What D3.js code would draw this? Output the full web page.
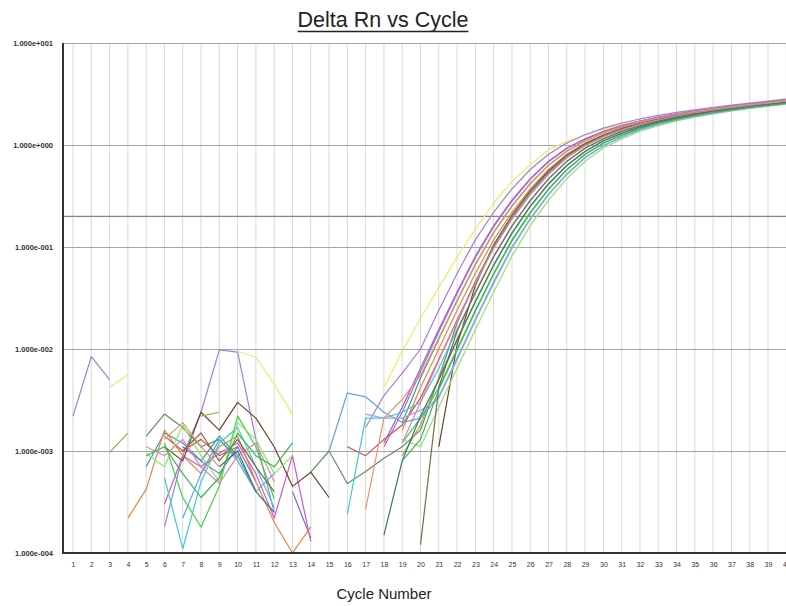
<!DOCTYPE html>
<html><head><meta charset="utf-8">
<script src="https://cdn.jsdelivr.net/npm/d3@7"></script>
<style>body{margin:0;background:#fff}svg{display:block}</style>
</head><body><svg id="c" width="786" height="606"></svg>
<script>
const _ = null;
const cycles = [1,2,3,4,5,6,7,8,9,10,11,12,13,14,15,16,17,18,19,20,21,22,23,24,25,26,27,28,29,30,31,32,33,34,35,36,37,38,39,40];
const yTickValues = [1e-4, 1e-3, 1e-2, 1e-1, 1, 10];
const yTickLabels = ["1.000e-004","1.000e-003","1.000e-002","1.000e-001","1.000e+000","1.000e+001"];
const thresholdValue = 0.2;
const titleText = "Delta Rn vs Cycle";
const xLabelText = "Cycle Number";

const seriesColors = ["#e6ee66","#a77bd9","#6f6fd8","#c95bc9","#2f9e9e","#e3863c","#6b4428","#d44a4a","#668c66","#3fc9d9",
                      "#3ed23e","#8ee46c","#a4aa3c","#e283b6","#64a2e2","#9aa6e6","#7c6a48","#3d7080","#e8926a","#36b84c"];

const s01 = [_,_,0.0042,0.0056,_,_,_,_,_,0.0095,0.0083,0.0045,0.0023,_,_,_,_,0.0042,0.0095,0.02,0.04,0.08,0.15,0.27,0.44,0.64,0.9,1.08,1.26,1.43,1.58,1.73,1.87,2.0,2.12,2.24,2.36,2.48,2.6,2.72];
const s02 = [0.0022,0.0084,0.005,_,_,0.00018,0.0009,0.0024,0.0098,0.0093,0.0013,0.00025,_,_,_,_,0.0017,0.0035,0.0058,0.010,0.024,0.055,0.1175,0.219,0.372,0.575,0.813,1.047,1.259,1.462,1.641,1.80,1.95,2.089,2.213,2.344,2.455,2.57,2.692,2.818];
const s03 = [_,_,_,_,_,_,0.0011,0.0008,0.0006,0.0011,0.0005,_,0.0004,0.00014,_,_,_,0.0012,0.00269,0.00646,0.0155,0.0363,0.0813,0.162,0.288,0.468,0.692,0.933,1.148,1.365,1.549,1.72,1.875,2.018,2.153,2.28,2.40,2.512,2.63,2.754];
const s04 = [_,_,_,_,_,0.0003,0.0009,0.0007,0.00095,0.0012,0.0006,0.00022,0.0009,0.00013,_,_,_,0.0011,0.0024,0.0060,0.0148,0.035,0.079,0.158,0.282,0.46,0.685,0.925,1.14,1.355,1.54,1.71,1.865,2.01,2.145,2.27,2.39,2.50,2.62,2.74];
const s05 = [_,_,_,_,0.0007,0.0015,0.0012,0.0008,0.0014,0.0009,0.0004,_,_,_,_,_,_,_,0.0019,0.0052,0.0125,0.0296,0.067,0.138,0.252,0.417,0.632,0.87,1.10,1.31,1.505,1.68,1.84,1.985,2.12,2.245,2.37,2.48,2.60,2.72];
const s06 = [_,_,_,0.00022,0.00042,0.0016,0.0009,0.0006,0.0011,0.0014,0.0005,0.0002,0.0001,0.00018,_,_,_,_,0.0016,0.0042,0.0100,0.024,0.055,0.1175,0.219,0.372,0.575,0.813,1.047,1.259,1.462,1.641,1.80,1.95,2.089,2.213,2.344,2.455,2.57,2.692];
const s07 = [_,_,_,_,_,0.0011,0.0008,0.0024,0.0016,0.003,0.0021,0.0011,0.00045,0.00062,0.00035,_,_,_,_,_,0.0011,0.011,0.042,0.105,0.205,0.355,0.558,0.795,1.03,1.245,1.445,1.625,1.785,1.935,2.075,2.2,2.33,2.44,2.555,2.675];
const s08 = [_,_,_,_,_,0.0014,0.0010,0.0013,0.0009,0.0011,_,_,_,_,_,0.0011,0.0009,0.0013,0.0018,0.0033,0.0079,0.0192,0.045,0.099,0.19,0.33,0.52,0.755,0.99,1.205,1.415,1.60,1.76,1.915,2.055,2.185,2.315,2.43,2.545,2.665];
const s09 = [_,_,_,_,0.0014,0.0023,0.0017,0.0011,0.0013,0.00085,_,_,_,0.00062,0.001,0.00048,0.00063,0.00085,0.0011,0.0016,0.0052,0.018,0.046,0.103,0.20,0.345,0.54,0.78,1.01,1.225,1.43,1.61,1.775,1.93,2.07,2.20,2.33,2.44,2.555,2.675];
const s10 = [_,_,_,_,_,0.00055,0.00011,0.0005,0.0012,0.0017,0.0007,0.00028,_,_,_,0.00024,0.0021,0.0021,0.0024,0.0030,0.00646,0.0155,0.0363,0.0813,0.162,0.288,0.468,0.692,0.933,1.148,1.365,1.549,1.72,1.875,2.018,2.153,2.28,2.40,2.512,2.63];
const s11 = [_,_,_,_,_,0.0012,0.00035,0.00018,0.00045,0.0022,0.0011,0.00034,_,_,_,_,_,_,0.0012,0.0021,0.00417,0.0100,0.024,0.055,0.1175,0.219,0.372,0.575,0.813,1.047,1.259,1.462,1.641,1.80,1.95,2.089,2.213,2.344,2.455,2.57];
const s12 = [_,_,_,_,0.00095,0.0007,0.0018,0.0009,0.0005,0.0019,0.0013,0.0006,0.0009,_,_,_,_,_,0.0013,0.0011,0.00269,0.00646,0.0155,0.0363,0.0813,0.162,0.288,0.468,0.692,0.933,1.148,1.365,1.549,1.72,1.875,2.018,2.153,2.28,2.40,2.512];
const s13 = [_,_,0.00097,0.0015,_,_,_,0.0022,0.0024,_,_,_,_,_,_,_,_,_,0.0009,0.0018,0.0052,0.0125,0.0296,0.067,0.138,0.252,0.417,0.632,0.87,1.10,1.31,1.505,1.68,1.84,1.985,2.12,2.245,2.37,2.48,2.60];
const s14 = [_,_,_,_,0.0011,0.0009,0.0013,0.0007,0.00048,0.0009,0.0012,0.0005,_,_,_,_,_,_,0.0012,0.0030,0.0077,0.0188,0.044,0.097,0.187,0.326,0.515,0.75,0.985,1.20,1.41,1.59,1.755,1.91,2.05,2.18,2.31,2.425,2.54,2.66];
const s15 = [_,_,_,_,_,_,0.00022,0.0006,0.0013,0.0008,0.0004,0.0006,_,_,0.001,0.0037,0.0034,0.0024,0.0019,0.0021,0.0034,0.0081,0.0196,0.0455,0.10,0.19,0.33,0.52,0.755,0.99,1.205,1.415,1.60,1.76,1.915,2.055,2.185,2.315,2.43,2.545];
const s16 = [_,_,_,_,_,_,_,_,_,_,_,_,_,_,_,_,0.0023,0.0021,0.0021,0.0025,0.0033,0.0078,0.019,0.044,0.097,0.186,0.325,0.512,0.745,0.98,1.195,1.405,1.59,1.75,1.905,2.045,2.175,2.30,2.42,2.535];
const s17 = [_,_,_,_,_,_,0.0010,0.0015,0.0008,0.0013,0.0007,0.0004,_,_,_,_,_,_,_,0.00012,0.0042,0.0150,0.0355,0.080,0.160,0.285,0.465,0.69,0.93,1.145,1.36,1.545,1.715,1.87,2.015,2.15,2.275,2.395,2.51,2.625];
const s18 = [_,_,_,_,_,_,_,_,0.0007,0.0010,0.0004,0.00025,_,_,_,_,_,0.00015,0.0008,0.0022,0.0050,0.0122,0.029,0.066,0.136,0.25,0.415,0.63,0.865,1.095,1.305,1.50,1.675,1.835,1.98,2.115,2.24,2.365,2.475,2.595];
const s19 = [_,_,_,_,_,0.0013,0.0019,0.0011,0.0007,_,_,_,_,_,_,_,0.00027,0.0021,0.0032,0.0055,0.0128,0.030,0.068,0.14,0.255,0.42,0.635,0.875,1.105,1.315,1.51,1.685,1.845,1.99,2.125,2.25,2.375,2.485,2.605,2.725];
const s20 = [_,_,_,_,0.0009,0.0011,0.0006,0.00035,0.00055,0.0015,0.0009,0.0007,0.0012,_,_,_,_,_,0.0008,0.0013,0.0040,0.0097,0.0235,0.054,0.115,0.215,0.368,0.57,0.808,1.04,1.25,1.455,1.635,1.795,1.945,2.085,2.21,2.34,2.45,2.565];

const seriesValues = [s01,s02,s03,s04,s05,s06,s07,s08,s09,s10,s11,s12,s13,s14,s15,s16,s17,s18,s19,s20];

(function draw() {
  const pLeft = 63, pTop = 43, pBottom = 553, pRight = 786;
  const svg = d3.select("#c");
  const x = d3.scaleLinear().domain([1, 40]).range([73, 786.3]);
  const y = d3.scaleLog().domain([1e-4, 10]).range([pBottom, pTop]);
  const font = "Liberation Sans, Arial, sans-serif";

  svg.append("defs").append("clipPath").attr("id","clip")
    .append("rect").attr("x", pLeft).attr("y", pTop).attr("width", pRight-pLeft).attr("height", pBottom-pTop);

  svg.append("g").selectAll("line").data(cycles).join("line")
    .attr("x1", d => x(d)).attr("x2", d => x(d)).attr("y1", pTop).attr("y2", pBottom)
    .attr("stroke", "#d8d8d8").attr("stroke-width", 1);
  svg.append("g").selectAll("line").data(yTickValues).join("line")
    .attr("x1", pLeft).attr("x2", pRight).attr("y1", d => Math.round(y(d))+0.5).attr("y2", d => Math.round(y(d))+0.5)
    .attr("stroke", "#a4a4a4").attr("stroke-width", 1.2);
  svg.append("line").attr("x1", pLeft).attr("x2", pRight)
    .attr("y1", y(thresholdValue)).attr("y2", y(thresholdValue))
    .attr("stroke", "#728f72").attr("stroke-width", 1.3);

  const line = d3.line()
    .defined(d => d.v !== null && d.v !== undefined)
    .x(d => x(d.c)).y(d => y(d.v))
    .curve(d3.curveLinear);

  const gLines = svg.append("g").attr("clip-path", "url(#clip)");
  seriesValues.forEach((vals, i) => {
    const pts = cycles.map((c, k) => ({c, v: vals[k]}));
    gLines.append("path").attr("d", line(pts))
      .attr("fill", "none").attr("stroke", seriesColors[i]).attr("stroke-width", 1.2)
      .attr("stroke-linejoin", "round");
  });

  const yAxis = d3.axisLeft(y).tickValues(yTickValues)
    .tickFormat((d, i) => yTickLabels[i]).tickSize(0).tickPadding(10);
  const gy = svg.append("g").attr("transform", `translate(${pLeft},0)`).call(yAxis);
  gy.select(".domain").remove();
  gy.selectAll("text").attr("font-family", font)
    .attr("font-size", 7.5).attr("fill", "#333").attr("font-weight", "bold");

  const xAxis = d3.axisBottom(x).tickValues(cycles).tickFormat(d => String(d)).tickSize(0).tickPadding(9);
  const gx = svg.append("g").attr("transform", `translate(0,${pBottom})`).call(xAxis);
  gx.select(".domain").remove();
  gx.selectAll("text").attr("font-family", font).attr("font-size", 7).attr("fill", "#333");

  svg.append("line").attr("x1", pLeft).attr("x2", pLeft).attr("y1", pTop).attr("y2", pBottom+1)
    .attr("stroke", "#333").attr("stroke-width", 2);
  svg.append("line").attr("x1", pLeft-1).attr("x2", pRight).attr("y1", pBottom).attr("y2", pBottom)
    .attr("stroke", "#333").attr("stroke-width", 2);

  const t = svg.append("text").attr("x", 383).attr("y", 27).attr("text-anchor", "middle")
    .attr("font-family", font).attr("font-size", 21.5).attr("fill", "#222").text(titleText);
  const tw = t.node().getComputedTextLength();
  svg.append("line").attr("x1", 383 - tw/2).attr("x2", 383 + tw/2).attr("y1", 31.5).attr("y2", 31.5)
    .attr("stroke", "#222").attr("stroke-width", 1.6);

  svg.append("text").attr("x", 384).attr("y", 599).attr("text-anchor", "middle")
    .attr("font-family", font).attr("font-size", 15).attr("fill", "#222").text(xLabelText);
})();
</script>
</body></html>
